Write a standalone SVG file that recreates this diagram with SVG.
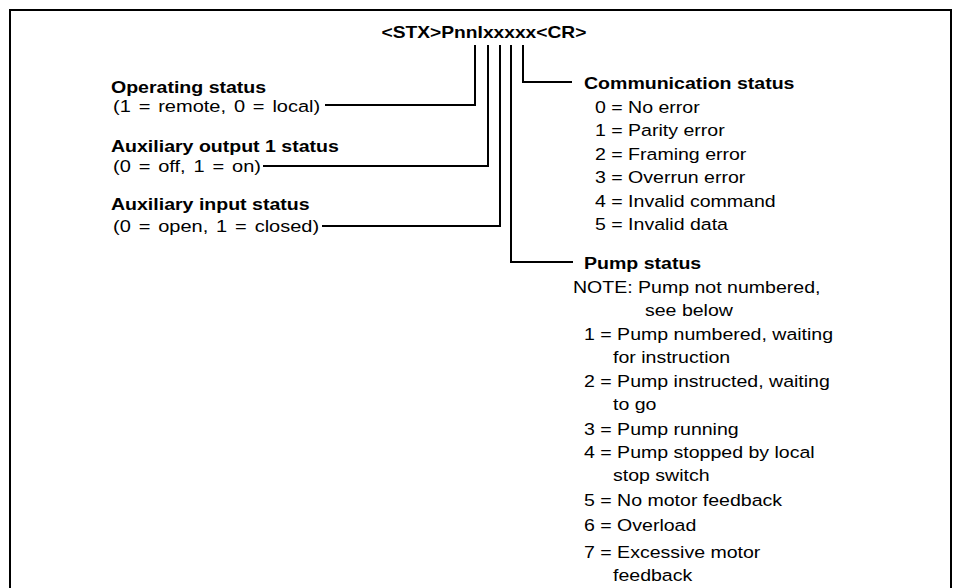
<svg xmlns="http://www.w3.org/2000/svg" width="956" height="588" viewBox="0 0 956 588">
<style>
text{font-family:"Liberation Sans",Arial,sans-serif;font-size:17px;fill:#000}
.b{font-weight:bold}
.t{font-weight:bold;font-size:16.7px}
.p{word-spacing:2px;font-size:17.4px}
.ln{fill:none;stroke:#000;stroke-width:2}
</style>
<rect width="956" height="588" fill="#fff"/>
<path class="ln" d="M10,588 V10 H951 V588"/>
<g id="title" transform="scale(1.15,1)"><text class="t" x="420.87" y="38" text-anchor="middle">&lt;STX&gt;PnnIxxxxx&lt;CR&gt;</text></g>
<g id="connectors">
<path class="ln" d="M475,45 V105 H325"/>
<path class="ln" d="M488,45 V166 H263"/>
<path class="ln" d="M500,45 V226 H322"/>
<path class="ln" d="M511,45 V262 H573"/>
<path class="ln" d="M523,45 V82 H572"/>
</g>
<g id="operating" transform="scale(1.15,1)">
<text class="b" x="96.52" y="93">Operating status</text>
<text class="p" x="98.26" y="112">(1 = remote, 0 = local)</text>
</g>
<g id="aux-output" transform="scale(1.15,1)">
<text class="b" x="96.52" y="152">Auxiliary output 1 status</text>
<text class="p" x="98.26" y="172">(0 = off, 1 = on)</text>
</g>
<g id="aux-input" transform="scale(1.15,1)">
<text class="b" x="96.52" y="210">Auxiliary input status</text>
<text class="p" x="98.26" y="232">(0 = open, 1 = closed)</text>
</g>
<g id="communication" transform="scale(1.15,1)">
<text class="b" x="507.83" y="89">Communication status</text>
<text x="517.39" y="113">0 = No error</text>
<text x="517.39" y="136">1 = Parity error</text>
<text x="517.39" y="160">2 = Framing error</text>
<text x="517.39" y="183">3 = Overrun error</text>
<text x="517.39" y="207">4 = Invalid command</text>
<text x="517.39" y="230">5 = Invalid data</text>
</g>
<g id="pump" transform="scale(1.15,1)">
<text class="b" x="507.83" y="269">Pump status</text>
<text x="498.26" y="293">NOTE: Pump not numbered,</text>
<text x="560.87" y="316">see below</text>
<text x="507.83" y="340">1 = Pump numbered, waiting</text>
<text x="533.04" y="363">for instruction</text>
<text x="507.83" y="387">2 = Pump instructed, waiting</text>
<text x="533.04" y="410">to go</text>
<text x="507.83" y="435">3 = Pump running</text>
<text x="507.83" y="458">4 = Pump stopped by local</text>
<text x="533.04" y="481">stop switch</text>
<text x="507.83" y="506">5 = No motor feedback</text>
<text x="507.83" y="531">6 = Overload</text>
<text x="507.83" y="558">7 = Excessive motor</text>
<text x="533.04" y="581">feedback</text>
</g>
</svg>
